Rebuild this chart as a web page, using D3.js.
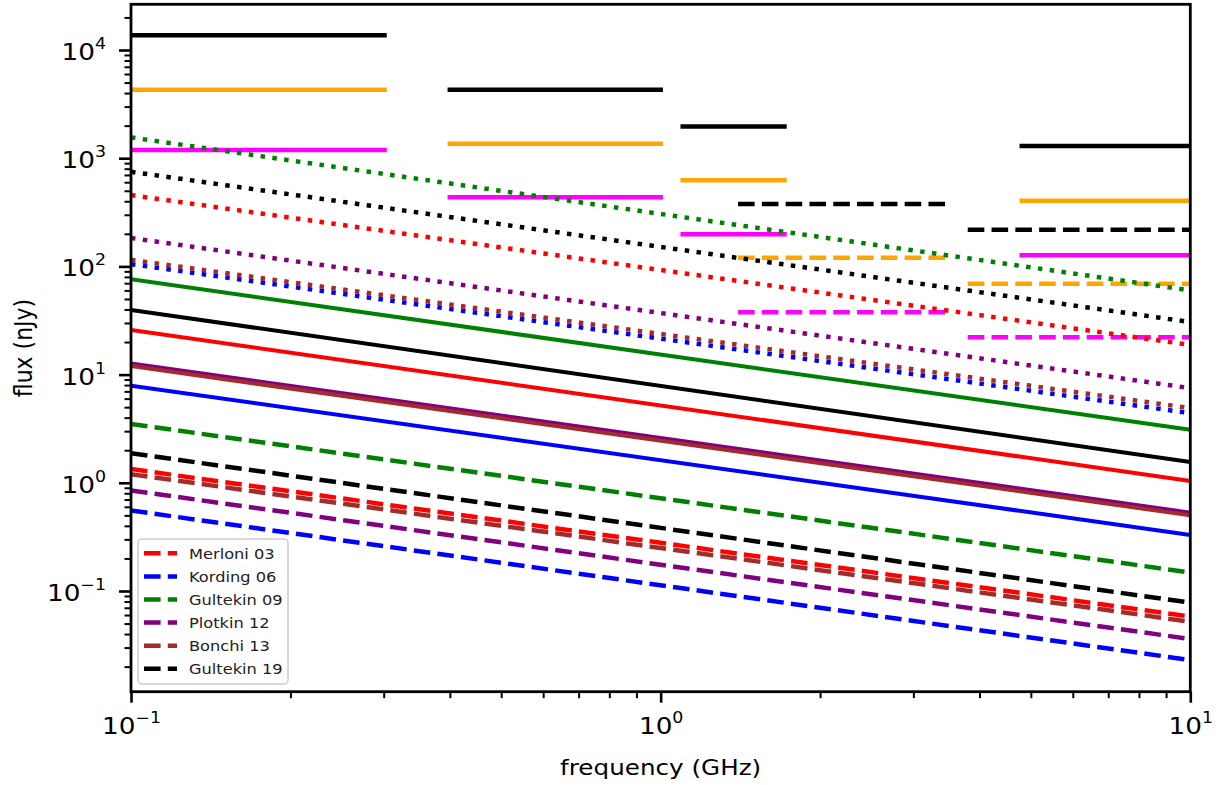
<!DOCTYPE html>
<html>
<head>
<meta charset="utf-8">
<script src="https://cdn.jsdelivr.net/npm/d3@7"></script>
<style>
  body { margin: 0; background: #fff; }
  svg { display: block; font-family: "DejaVu Sans", sans-serif; }
</style>
</head>
<body>
<svg id="chart" width="1225" height="785"></svg>
<script>
// models, in legend order
const models = ["Merloni 03", "Kording 06", "Gultekin 09", "Plotkin 12", "Bonchi 13", "Gultekin 19"];
const modelColors = ["red", "blue", "green", "purple", "brown", "black"];

// each model line spans 0.1 - 10 GHz; flux (nJy) read at both ends
const lineFreq = [0.1, 10];
const solidFlux = [[25.9, 1.04], [7.9, 0.33], [76, 3.09], [12.7, 0.53], [12.0, 0.50], [39.6, 1.56]];
const dashedFlux = [[1.34, 0.058], [0.555, 0.023], [3.5, 0.148], [0.85, 0.036], [1.20, 0.052], [1.88, 0.078]];
const dottedFlux = [[456, 18.8], [105, 4.4], [1556, 60], [183, 7.5], [115, 4.9], [749, 30.6]];

// survey sensitivity bands (GHz) and levels (nJy), one row per level colour
const levelColors = ["black", "orange", "magenta"];
const solidBands = [[0.1, 0.304], [0.396, 1.01], [1.09, 1.73], [4.76, 10]];
const solidBandFlux = [[13700, 4283, 1966, 1294], [4283, 1358, 624, 404], [1188, 435, 198, 127]];
const dashedBands = [[1.40, 3.51], [3.80, 10]];
const dashedBandFlux = [[377, 218], [120, 69.2], [37.7, 22.1]];

const xTicks = [0.1, 1, 10];
const yTicks = [0.1, 1, 10, 100, 1000, 10000];

const pLeft = 131, pRight = 1190.3, pTop = 4.3, pBottom = 691.7;
// the reference glyphs are a bit wider than tall
const stretch = 1.12;

const svg = d3.select("#chart");

const x = d3.scaleLog().domain([0.1, 10]).range([pLeft, pRight]);
const y = d3.scaleLog().domain([Math.pow(10, -1.9307), Math.pow(10, 4.4224)]).range([pBottom, pTop]);

function minorTicks(domain) {
  const out = [];
  const lo = Math.floor(Math.log10(domain[0])), hi = Math.ceil(Math.log10(domain[1]));
  for (let e = lo; e <= hi; e++) {
    for (let m = 2; m <= 9; m++) {
      const v = m * Math.pow(10, e);
      if (v >= domain[0] && v <= domain[1]) out.push(v);
    }
  }
  return out;
}

function powLabel(sel) {
  sel.each(function (d) {
    const e = Math.round(Math.log10(d));
    const t = d3.select(this).text(null);
    t.append("tspan").text("10");
    t.append("tspan")
      .attr("dy", -11)
      .attr("font-size", 15.5)
      .text(e < 0 ? "\u2212" + (-e) : String(e));
  });
}

function widen(sel) {
  sel.attr("transform", function () {
    const px = +this.getAttribute("x") || 0;
    return `translate(${px},0) scale(${stretch},1) translate(${-px},0)`;
  });
}

svg.append("defs").append("clipPath").attr("id", "plot-clip")
  .append("rect")
  .attr("x", pLeft).attr("y", pTop)
  .attr("width", pRight - pLeft).attr("height", pBottom - pTop);

const plot = svg.append("g").attr("clip-path", "url(#plot-clip)");

const line = d3.line().x(d => x(d[0])).y(d => y(d[1]));

// sensitivity bands
levelColors.forEach((c, li) => {
  plot.append("g").selectAll("path")
    .data(solidBands.map((b, bi) => [[b[0], solidBandFlux[li][bi]], [b[1], solidBandFlux[li][bi]]]))
    .join("path")
    .attr("d", line)
    .attr("fill", "none")
    .attr("stroke", c)
    .attr("stroke-width", 4.5);
  plot.append("g").selectAll("path")
    .data(dashedBands.map((b, bi) => [[b[0], dashedBandFlux[li][bi]], [b[1], dashedBandFlux[li][bi]]]))
    .join("path")
    .attr("d", line)
    .attr("fill", "none")
    .attr("stroke", c)
    .attr("stroke-width", 4.5)
    .attr("stroke-dasharray", "16.6,7.2");
});

// model lines
const styles = [
  { flux: solidFlux, dash: null, w: 4 },
  { flux: dashedFlux, dash: "16.6,7.2", w: 4.5 },
  { flux: dottedFlux, dash: "4.5,7.4", w: 4.5 }
];
models.forEach((m, i) => {
  styles.forEach(s => {
    plot.append("path")
      .datum(lineFreq.map((f, k) => [f, s.flux[i][k]]))
      .attr("d", line)
      .attr("fill", "none")
      .attr("stroke", modelColors[i])
      .attr("stroke-width", s.w)
      .attr("stroke-dasharray", s.dash);
  });
});

// axes
const xMinor = svg.append("g").attr("transform", `translate(0,${pBottom})`)
  .call(d3.axisBottom(x).tickValues(minorTicks(x.domain())).tickSize(6.5).tickFormat(""));
const xMajor = svg.append("g").attr("transform", `translate(0,${pBottom})`)
  .call(d3.axisBottom(x).tickValues(xTicks).tickSize(11).tickPadding(15));
const yMinor = svg.append("g").attr("transform", `translate(${pLeft},0)`)
  .call(d3.axisLeft(y).tickValues(minorTicks(y.domain())).tickSize(6.5).tickFormat(""));
const yMajor = svg.append("g").attr("transform", `translate(${pLeft},0)`)
  .call(d3.axisLeft(y).tickValues(yTicks).tickSize(12).tickPadding(13));

[xMinor, xMajor, yMinor, yMajor].forEach(g => g.select(".domain").remove());
[xMinor, yMinor].forEach(g => g.selectAll(".tick line").attr("stroke", "#000").attr("stroke-width", 2));
[xMajor, yMajor].forEach(g => {
  g.selectAll(".tick line").attr("stroke", "#000").attr("stroke-width", 2.6);
  g.selectAll(".tick text")
    .attr("font-family", "DejaVu Sans, sans-serif")
    .attr("font-size", 23.5)
    .attr("fill", "#000")
    .call(powLabel)
    .call(widen);
});
yMajor.selectAll(".tick text").attr("dy", "0.4em");

// frame
svg.append("rect")
  .attr("x", pLeft).attr("y", pTop)
  .attr("width", pRight - pLeft).attr("height", pBottom - pTop)
  .attr("fill", "none")
  .attr("stroke", "#000")
  .attr("stroke-width", 2.8);

// axis labels
svg.append("text")
  .attr("x", (pLeft + pRight) / 2).attr("y", 775)
  .attr("text-anchor", "middle")
  .attr("font-size", 22)
  .text("frequency (GHz)")
  .call(widen);
svg.append("text")
  .attr("transform", `translate(32,${(pTop + pBottom) / 2}) scale(${stretch},1) rotate(-90)`)
  .attr("text-anchor", "middle")
  .attr("font-size", 22)
  .text("flux (nJy)");

// legend
const legend = svg.append("g");
legend.append("rect")
  .attr("x", 138).attr("y", 539)
  .attr("width", 150).attr("height", 145)
  .attr("rx", 4)
  .attr("fill", "#fff").attr("fill-opacity", 0.8)
  .attr("stroke", "#ccc").attr("stroke-width", 1.5);
const rows = legend.selectAll("g.row")
  .data(models)
  .join("g")
  .attr("class", "row")
  .attr("transform", (d, i) => `translate(0,${553.3 + i * 23.1})`);
rows.append("line")
  .attr("x1", 144).attr("x2", 177)
  .attr("stroke", (d, i) => modelColors[i])
  .attr("stroke-width", 4.5)
  .attr("stroke-dasharray", "16.6,7.2");
rows.append("text")
  .attr("x", 189)
  .attr("dy", "0.36em")
  .attr("font-size", 14.5)
  .attr("fill", "#222")
  .text(d => d)
  .call(widen);
</script>
</body>
</html>
